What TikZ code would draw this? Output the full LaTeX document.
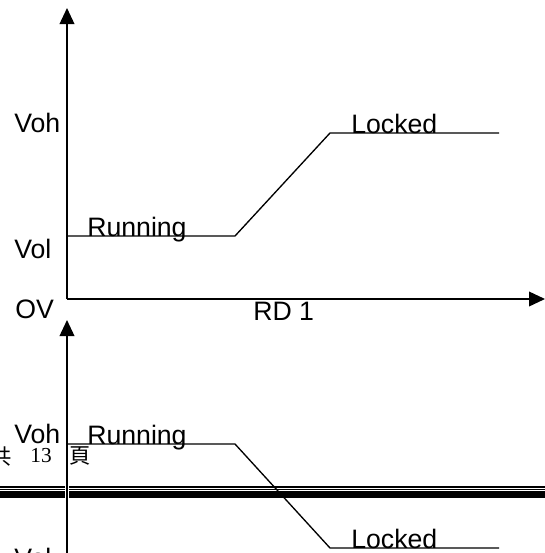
\documentclass[tikz,border=0pt]{standalone}
\usepackage{fontspec}
\setmainfont{Liberation Sans}
\newfontfamily\cjkfont{Noto Sans CJK TC}
\newfontfamily\footfont{Liberation Serif}
\usetikzlibrary{arrows.meta}
\tikzset{
  axis/.style={line width=1.2pt, -{Triangle[length=12pt,width=11pt]}},
  signal/.style={line width=1pt},
  lbl/.style={inner sep=0pt, anchor=base west, font=\fontsize{20}{24}\selectfont},
  foot/.style={inner sep=0pt, font=\fontsize{16}{18}\selectfont}
}
\begin{document}
\begin{tikzpicture}[x=0.75pt,y=-0.75pt]
	\useasboundingbox (0,0) rectangle (545,553);
	\fill[white] (0,0) rectangle (545,553);
	\coordinate (o1) at (67,299);
	\coordinate (o2) at (67,560);
	\draw[axis] (o1) -- (67,8);
	\draw[axis] (o1) -- (545,299);
	\draw[signal] (67,236) -- (235,236) -- (330,133) -- (499,133);
	\node[lbl] (voh1) at (14,132) {Voh};
	\node[lbl] (vol1) at (14,258) {Vol};
	\node[lbl] (ov) at (15,318) {OV};
	\node[lbl] (run1) at (87,236) {Running};
	\node[lbl] (lock1) at (351,133) {Locked};
	\node[lbl] (rd) at (253,320) {RD 1};
	\draw[line width=0.8pt] (0,487) -- (545,487);
	\draw[line width=0.8pt] (0,489.5) -- (545,489.5);
	\fill (0,491) rectangle (545,497.5);
	\draw[white, line width=3.5pt] (67,485) -- (67,499);
	\draw[axis] (o2) -- (67,320);
	\draw[signal] (67,444) -- (235,444) -- (330,548) -- (499,548);
	\node[lbl] (voh2) at (14,443) {Voh};
	\node[lbl] (run2) at (87,444) {Running};
	\node[lbl] (lock2) at (351,548) {Locked};
	\node[lbl] (vol2) at (14,567) {Vol};
	\node[foot] (gong) at (1,456) {\cjkfont 共};
	\node[foot] (pages) at (41,456) {\footfont 13};
	\node[foot] (ye) at (80,456) {\cjkfont 頁};
\end{tikzpicture}
\end{document}
